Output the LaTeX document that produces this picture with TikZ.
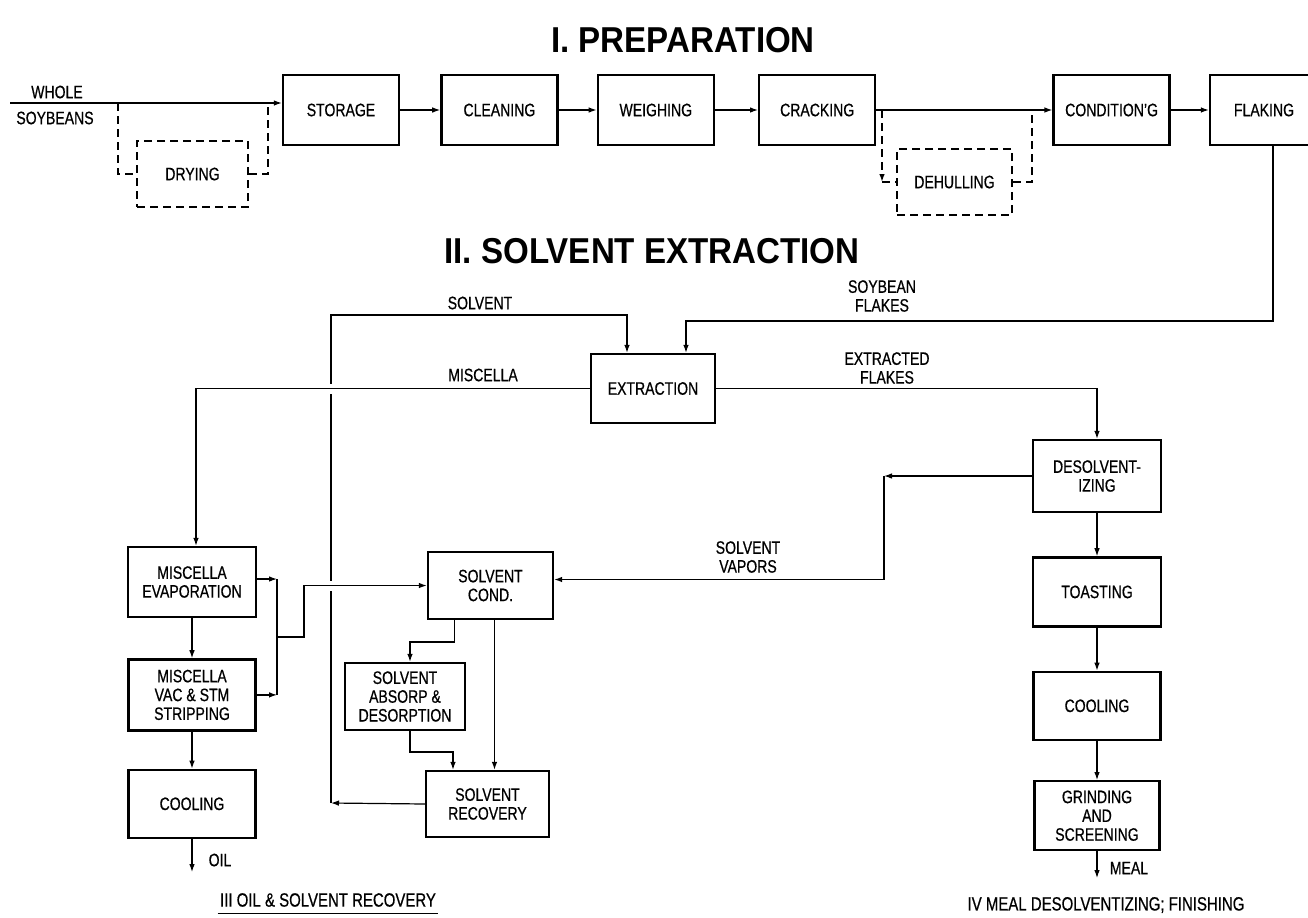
\documentclass[tikz,border=0pt]{standalone}
\usepackage{fontspec}
\setmainfont{Liberation Sans}[FakeStretch=0.78,FakeBold=0.6]
\newfontfamily\headfont{Liberation Sans}[FakeStretch=0.92]
\usetikzlibrary{arrows.meta,positioning}

\begin{document}
\begin{tikzpicture}[x=0.5pt,y=-0.5pt,
 node distance=19pt,
 font=\fontsize{9}{9.4}\selectfont,
 box/.style={draw,line width=1.2pt,minimum width=58pt,minimum height=35pt,align=center,inner sep=1pt},
 optbox/.style={box,dash pattern=on 4pt off 2.5pt,minimum height=33pt},
 flow/.style={-{Latex[length=4pt,width=2.8pt]},line width=0.6pt},
 line/.style={line width=0.6pt},
 bypass/.style={line width=0.8pt,dash pattern=on 4pt off 2.5pt},
 lbl/.style={align=center,inner sep=1pt},
 caption/.style={inner xsep=1pt,inner ysep=3pt,font=\fontsize{9.6}{10}\selectfont},
 title/.style={font=\headfont\bfseries\fontsize{18}{18}\selectfont},
 gap/.style={fill=white,inner sep=0pt,minimum size=5pt}
]
\useasboundingbox (0,0) rectangle (1308,917);

\node[title] (t1) at (683,40) {I. PREPARATION};
\node[title] (t2) at (652,251) {II. SOLVENT EXTRACTION};

\node[box] (storage) at (341,110) {STORAGE};
\node[box,right=20pt of storage] (cleaning) {CLEANING};
\node[box,right=of cleaning] (weighing) {WEIGHING};
\node[box,right=21.5pt of weighing] (cracking) {CRACKING};
\node[box,right=88pt of cracking] (condg) {CONDITION'G};
\node[box,minimum width=54pt,right=of condg] (flaking) {FLAKING};
\node[optbox,minimum width=55.5pt] (drying) at (192.5,174) {DRYING};
\node[optbox,minimum width=57.5pt] (dehull) at (954.5,182) {DEHULLING};

\node[box,minimum width=62pt,minimum height=34.5pt] (extr) at (653,388.5) {EXTRACTION};

\node[box,minimum width=64pt] (mevap) at (192,582) {MISCELLA\\EVAPORATION};
\node[box,minimum width=63.5pt,minimum height=35.5pt,below=20pt of mevap] (mstrip) {MISCELLA\\VAC \& STM\\STRIPPING};
\node[box,minimum width=63.5pt,minimum height=34pt,below=18.5pt of mstrip] (cool1) {COOLING};
\node[box,minimum width=62.5pt,minimum height=33.5pt] (scond) at (490.5,585.5) {SOLVENT\\COND.};
\node[box,minimum width=60pt,minimum height=33.5pt] (absorp) at (405,696.5) {SOLVENT\\ABSORP \&\\DESORPTION};
\node[box,minimum width=61.5pt,minimum height=33pt] (recov) at (487.5,804) {SOLVENT\\RECOVERY};

\node[box,minimum width=64pt,minimum height=36pt] (desolv) at (1097,476) {DESOLVENT-\\IZING};
\node[box,minimum width=64pt,minimum height=34.5pt,below=21.5pt of desolv] (toast) {TOASTING};
\node[box,minimum width=63.5pt,minimum height=34pt,below=21.5pt of toast] (cool2) {COOLING};
\node[box,minimum width=62.5pt,minimum height=34.5pt,below=19.5pt of cool2] (grind) {GRINDING\\AND\\SCREENING};

\coordinate (in) at (10,103);
\coordinate (dryin) at (118,103);
\coordinate (dryout) at (268,103);
\coordinate (dhin) at (882,110);
\coordinate (dhout) at (1032,110);
\coordinate (slv) at (627,315);
\coordinate (flk) at (686,321);
\coordinate (ret) at (331,803);
\coordinate (vap) at (884,476);
\coordinate (col) at (277,637);
\coordinate (jog) at (304,637);
\coordinate (abs1) at (410,642);
\coordinate (abs2) at (453,752);
\coordinate (oil) at (189,872);
\coordinate (meal) at (1094,878);

\draw[flow] (in) -- (in -| storage.west);
\node[lbl] (whole) at (57,92) {WHOLE};
\node[lbl] (soyb) at (55,118) {SOYBEANS};
\draw[bypass] (dryin) |- (drying.west);
\draw[bypass] (drying.east) -| (dryout);
\draw[flow] (storage) -- (cleaning);
\draw[flow] (cleaning) -- (weighing);
\draw[flow] (weighing) -- (cracking);
\draw[flow] (cracking) -- (condg);
\draw[bypass,-{Latex[length=4pt,width=2.8pt]}] (dhin) -- (dhin |- dehull.west);
\draw[bypass] (dhin |- dehull.west) -- (dehull.west);
\draw[bypass] (dehull.east) -| (dhout);
\draw[flow] (condg) -- (flaking);

\draw[flow] ([xshift=4.5pt]flaking.south) |- (flk) -- (flk |- extr.north);
\node[lbl] (sflakes) at (882,296) {SOYBEAN\\FLAKES};
\draw[flow] (recov.west) -- (ret);
\draw[flow] (ret) |- (slv) -- (slv |- extr.north);
\node[lbl] (solv) at (480,303) {SOLVENT};
\node[gap] (x1) at (ret |- extr.west) {};
\node[gap] (x2) at (ret |- scond.west) {};
\draw[flow] (extr.west) -| ([xshift=2pt]mevap.north);
\node[lbl] (misc) at (483,375) {MISCELLA};
\draw[flow] (extr.east) -| (desolv.north);
\node[lbl] (eflakes) at (887,368) {EXTRACTED\\FLAKES};

\draw[flow] (mevap) -- (mstrip);
\draw[flow] (mstrip) -- (cool1);
\draw[flow] ([yshift=1.5pt]mevap.east) -- ([yshift=1.5pt]mevap.east -| col);
\draw[flow] (mstrip.east) -- (mstrip.east -| col);
\draw[line] ([yshift=1.5pt]mevap.east -| col) -- (mstrip.east -| col);
\draw[flow] (col) -- (jog) |- (scond.west);
\draw[flow] (cool1.south) -- (cool1.south |- oil);
\node[lbl] (oillbl) at (220,860) {OIL};

\draw[flow] (desolv.west) -- (vap);
\draw[flow] (vap) |- ([yshift=3pt]scond.east);
\node[lbl] (vapors) at (748,557) {SOLVENT\\VAPORS};
\draw[flow] ([xshift=-18pt]scond.south) |- (abs1) -- (abs1 |- absorp.north);
\draw[flow] ([xshift=2pt]scond.south) -- ([xshift=2pt]scond.south |- recov.north);
\draw[flow] ([xshift=2.5pt]absorp.south) |- (abs2) -- (abs2 |- recov.north);

\draw[flow] (desolv) -- (toast);
\draw[flow] (toast) -- (cool2);
\draw[flow] (cool2) -- (grind);
\draw[flow] (grind.south) -- (grind.south |- meal);
\node[lbl] (meallbl) at (1129,868) {MEAL};

\node[caption] (sec3) at (328,900) {III OIL \& SOLVENT RECOVERY};
\draw[line] (sec3.south west) -- (sec3.south east);
\node[caption] (sec4) at (1106,905) {IV MEAL DESOLVENTIZING; FINISHING};
\draw[line] (sec4.south west) -- (sec4.south east);
\end{tikzpicture}
\end{document}
